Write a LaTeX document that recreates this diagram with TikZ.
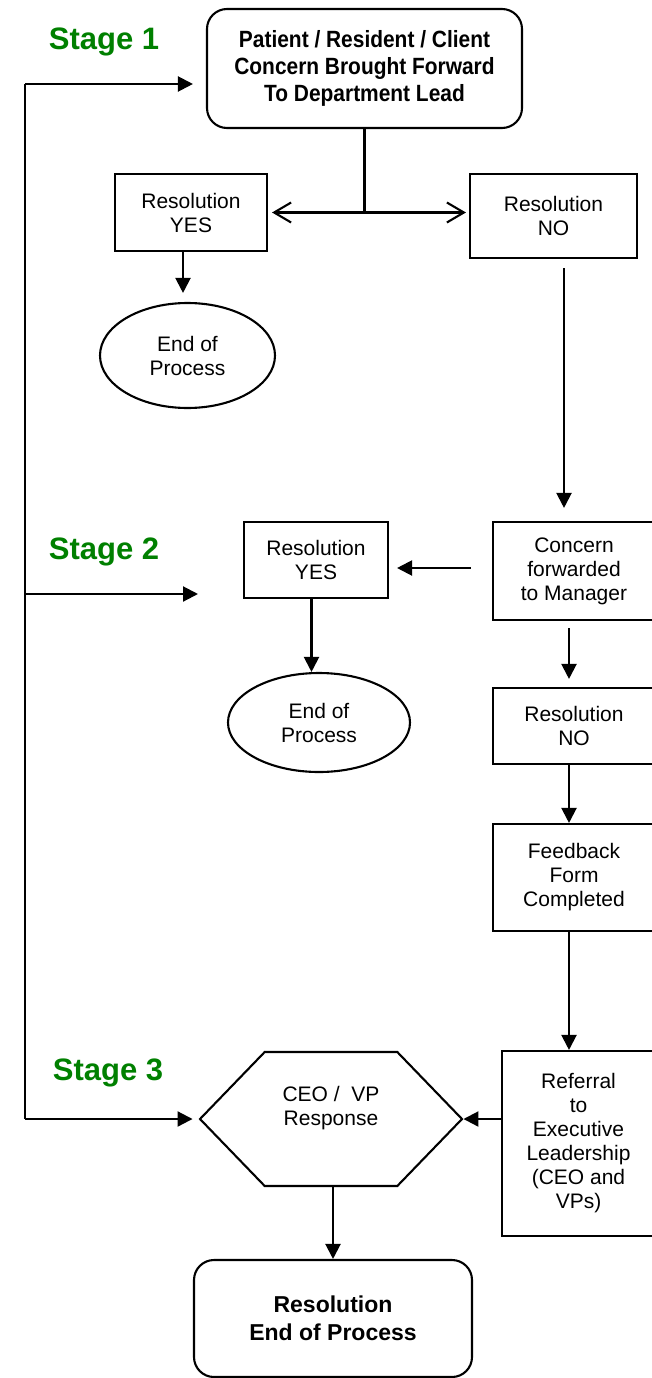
\documentclass[tikz,border=0pt]{standalone}
\usepackage{fontspec}
\setmainfont{Liberation Sans}
\newfontfamily\narrowsans[FakeStretch=0.89]{Liberation Sans}
\usetikzlibrary{positioning, arrows.meta, shapes.geometric, shapes.symbols}
\definecolor{stagegreen}{RGB}{0,128,0}
\newcommand{\boxfont}{\fontsize{21}{24}\selectfont}
\newcommand{\leadfont}{\narrowsans\bfseries\fontsize{23.5}{27}\selectfont}
\newcommand{\finalfont}{\bfseries\fontsize{23}{28}\selectfont}
\newcommand{\stagefont}{\bfseries\fontsize{31}{34}\selectfont}

\begin{document}
\begin{tikzpicture}[x=1pt, y=-1pt, line width=2.1pt,
    >={Triangle[length=15pt,width=15pt]},
    box/.style={draw, rectangle, align=center, inner sep=2pt, font=\boxfont},
    leadbox/.style={box, rounded corners=20pt, font=\leadfont},
    endproc/.style={draw, ellipse, align=center, inner sep=0pt, font=\boxfont},
    hexbox/.style={draw, signal, signal to=west and east, signal pointer angle=92,
                   align=center, inner sep=0pt, text depth=27pt, font=\boxfont},
    stage/.style={font=\stagefont, text=stagegreen, inner sep=0pt}]

  \useasboundingbox (0,0) rectangle (651,1378);

  % stage labels
  \node[stage] (stage1) at (104,42)     {Stage 1};
  \node[stage] (stage2) at (104,552)    {Stage 2};
  \node[stage] (stage3) at (108,1073)   {Stage 3};

  % stage 1
  \node[leadbox, minimum width=315pt, minimum height=119pt] (lead) at (364.5,68.5)
        {Patient / Resident / Client\\Concern Brought Forward\\To Department Lead};
  \node[box, minimum width=152pt, minimum height=77pt] (yes1) at (191,212.5) {Resolution\\YES};
  \node[box, minimum width=167pt, minimum height=84pt] (no1) at (553.5,216) {Resolution\\NO};
  \node[endproc, minimum width=175pt, minimum height=105pt] (end1) at (187.5,355.5) {End of\\Process};

  % stage 2
  \node[box, minimum width=162pt, minimum height=98pt] (fwd) at (574,571)
        {Concern\\forwarded\\to Manager};
  \node[box, minimum width=144pt, minimum height=76pt] (yes2) at (316,560) {Resolution\\YES};
  \node[endproc, minimum width=182pt, minimum height=99pt] (end2) at (319,722.5) {End of\\Process};
  \node[box, minimum width=162pt, minimum height=76pt] (no2) at (574,726) {Resolution\\NO};
  \node[box, minimum width=162pt, minimum height=107pt] (form) at (574,877.5)
        {Feedback\\Form\\Completed};

  % stage 3
  \node[box, minimum width=153pt, minimum height=185pt] (refer) at (578.5,1143.5)
        {Referral\\to\\Executive\\Leadership\\(CEO and\\VPs)};
  \node[hexbox, minimum width=262pt, minimum height=134pt] (ceo) at (331,1119)
        {CEO /\ \ VP\\Response};
  \node[leadbox, font=\finalfont, minimum width=278pt, minimum height=117pt] (final) at (333,1318.5)
        {Resolution\\End of Process};

  % loop back on the left
  \coordinate (looptop) at (25,84);
  \coordinate (loopbot) at (ceo.west -| looptop);
  \coordinate (stage2in) at (198,594);
  \draw (looptop) -- (loopbot);
  \draw[->, shorten >=13pt] (looptop) -- (looptop -| lead.west);
  \draw[->] (stage2in -| looptop) -- (stage2in);
  \draw[->, shorten >=6pt] (loopbot) -- (ceo.west);

  % connectors
  \draw (lead.south) -- (lead.south |- yes1.east) coordinate (split);
  \draw[<->, >={Straight Barb[length=17pt,width=20pt]}, shorten <=4pt, shorten >=3pt]
        (yes1.east |- split) -- (no1.west |- split);
  \draw[->, shorten >=9pt] ([xshift=-8pt]yes1.south) -- ([xshift=-8pt]yes1.south |- end1.north);
  \draw[->, shorten <=9pt, shorten >=13pt] ([xshift=10.5pt]no1.south) -- ([xshift=10.5pt]no1.south |- fwd.north);
  \draw[->, shorten <=21pt, shorten >=8pt] ([yshift=3pt]fwd.west) -- ([yshift=3pt]fwd.west -| yes2.east);
  \draw[->] ([xshift=-4.5pt]yes2.south) -- ([xshift=-4.5pt]yes2.south |- end2.north);
  \draw[->, shorten <=7pt, shorten >=8pt] ([xshift=-5pt]fwd.south) -- ([xshift=-5pt]no2.north);
  \draw[->] ([xshift=-5pt]no2.south) -- ([xshift=-5pt]form.north);
  \draw[->] ([xshift=-5pt]form.south) -- ([xshift=-5pt]form.south |- refer.north);
  \draw[->] (refer.west |- ceo.east) -- (ceo.east);
  \draw[->] (ceo.south -| final.north) -- (final.north);

\end{tikzpicture}
\end{document}
